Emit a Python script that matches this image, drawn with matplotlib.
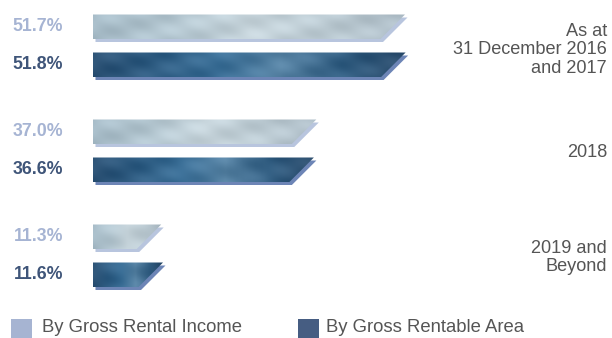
import matplotlib
matplotlib.use("Agg")
import matplotlib.pyplot as plt
import numpy as np
from matplotlib.patches import Polygon, Rectangle
from matplotlib.colors import LinearSegmentedColormap
from matplotlib.transforms import blended_transform_factory

# ── Data ─────────────────────────────────────────────────────
categories = ["As at\n31 December 2016\nand 2017", "2018", "2019 and\nBeyond"]
rental_income = [51.7, 37.0, 11.3]   # By Gross Rental Income
rentable_area = [51.8, 36.6, 11.6]   # By Gross Rentable Area
series_names = ["By Gross Rental Income", "By Gross Rentable Area"]

# ── Style ────────────────────────────────────────────────────
LIGHT_TXT = "#a6b4d3"
DARK_TXT = "#3f5579"
CAT_TXT = "#555555"
SHADOW = {"light": "#b8c5de", "dark": "#6d85b6"}
LEGEND_COL = {"light": "#a6b4d2", "dark": "#465d82"}

light_cmap = LinearSegmentedColormap.from_list(
    "light", ["#a7bcc8", "#b3c6d0", "#c6d4db", "#bccbd3", "#aebdc7"])
dark_cmap = LinearSegmentedColormap.from_list(
    "dark", ["#2d5376", "#2f5d83", "#3b6f97", "#5783a4", "#325e82", "#2a4b6b"])

plt.rcParams["font.family"] = ["Liberation Sans", "DejaVu Sans"]

W, H, DPI = 612, 338, 100
fig = plt.figure(figsize=(W / DPI, H / DPI), dpi=DPI)
fig.patch.set_facecolor("white")

left_px, right_px = 93, 600
ax = fig.add_axes([left_px / W, 0, (right_px - left_px) / W, 1])
px_per_unit = 6.035
grp_px = 105.0
ax.axis("off")

bar_h = 24.5 / grp_px
offset = 19.0 / grp_px
slant = 24.5 / px_per_unit
sh_dx, sh_dy = 2.5 / px_per_unit, 3.0 / grp_px


def texture(cmap, value, n_rows=30):
    # streak pattern tied to absolute x so short bars are not squashed
    n_cols = max(int(value * 8), 20)
    x = np.linspace(0, 1, n_cols)[None, :]
    xa = x * value / 52.0
    yy = np.linspace(0, 1, n_rows)[:, None]
    rgb = cmap(np.broadcast_to(x, (n_rows, n_cols)))[..., :3]
    streak = (0.03 * np.sin(2 * np.pi * (xa * 3 + yy * 0.8))
              + 0.015 * np.sin(2 * np.pi * (xa * 8 - yy * 1.1)))
    return np.clip(rgb + streak[..., None], 0, 1)


def draw_bar(y, value, cmap, kind):
    top, bot = y - bar_h / 2, y + bar_h / 2
    pts = np.array([[0, bot], [0, top], [value, top], [value - slant, bot]])
    shadow = Polygon(pts + [sh_dx, sh_dy], closed=True, facecolor=SHADOW[kind],
                     edgecolor="none", zorder=1)
    shadow.set_clip_on(False)
    ax.add_patch(shadow)
    poly = Polygon(pts, closed=True, facecolor="none", edgecolor="none", zorder=2)
    ax.add_patch(poly)
    im = ax.imshow(texture(cmap, value), extent=(0, value, bot, top), aspect="auto",
                   interpolation="bilinear", zorder=2)
    im.set_clip_path(poly)


for g, (v1, v2) in enumerate(zip(rental_income, rentable_area)):
    draw_bar(g - offset, v1, light_cmap, "light")
    draw_bar(g + offset, v2, dark_cmap, "dark")
    ax.text(-30 / px_per_unit, g - offset, f"{v1:.1f}%", ha="right", va="center",
            fontsize=12.8, fontweight="bold", color=LIGHT_TXT, clip_on=False)
    ax.text(-30 / px_per_unit, g + offset, f"{v2:.1f}%", ha="right", va="center",
            fontsize=12.8, fontweight="bold", color=DARK_TXT, clip_on=False)

ax.set_xlim(0, (right_px - left_px) / px_per_unit)
ax.set_ylim((H - 45.75) / grp_px, -45.75 / grp_px)

# Category labels on the right
trans = blended_transform_factory(fig.transFigure, ax.transData)
label_shift_px = [4, 1.5, 2]
for g, cat in enumerate(categories):
    ax.text(607 / W, g + label_shift_px[g] / grp_px, cat, transform=trans,
            ha="right", va="center", fontsize=13.1, color=CAT_TXT,
            linespacing=1.1, clip_on=False)

# Legend (manual)
for (sx, tx), name, kind in zip([(11, 42), (298, 326)], series_names, ["light", "dark"]):
    fig.patches.append(Rectangle((sx / W, 1 - 338 / H), 21 / W, 19 / H,
                                 transform=fig.transFigure, facecolor=LEGEND_COL[kind],
                                 edgecolor="none"))
    fig.text(tx / W, 1 - 328 / H, name, ha="left", va="center",
             fontsize=13.3, color=CAT_TXT)

fig.savefig("out.png", dpi=DPI)
